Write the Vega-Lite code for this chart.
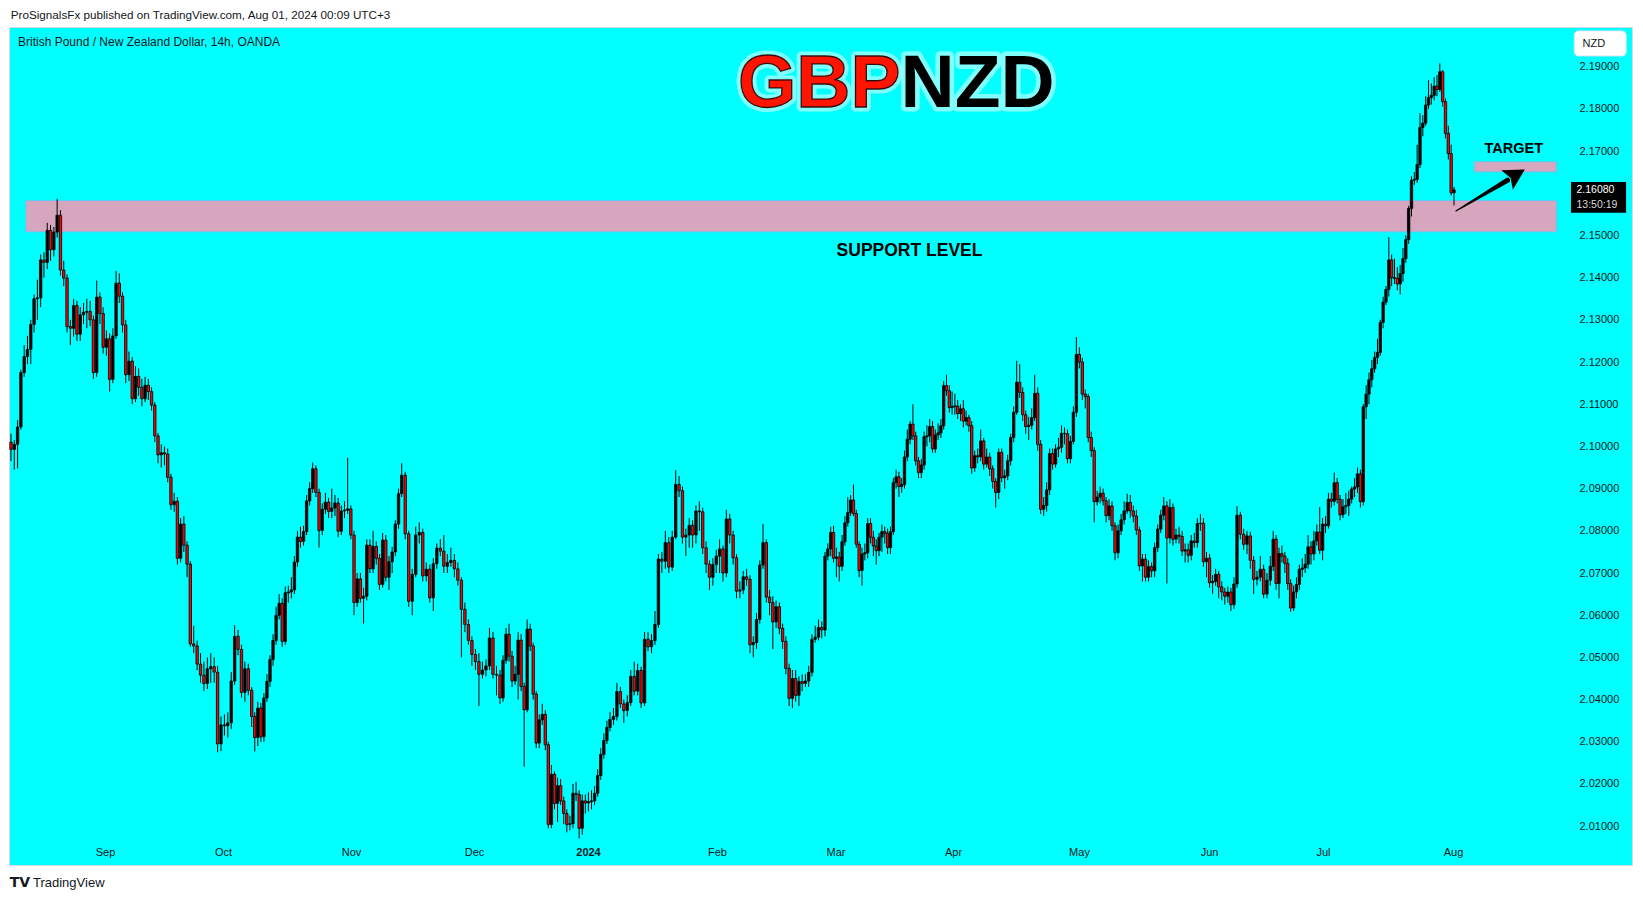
{
"$schema": "https://vega.github.io/schema/vega-lite/v6.json",
"width": 1623,
"height": 838,
"autosize": {"type": "none"},
"padding": {"left": 9, "top": 27, "right": 11, "bottom": 36},
"background": "#ffffff",
"config": {"view": {"fill": "#00ffff", "stroke": "#d6dae0", "strokeWidth": 1}, "font": "Liberation Sans"},
"datasets": {"candles": [
{"i":0,"o":2.1010,"h":2.1030,"l":2.0965,"c":2.0993},
{"i":1,"o":2.0993,"h":2.1015,"l":2.0945,"c":2.1005},
{"i":2,"o":2.1005,"h":2.1062,"l":2.0948,"c":2.1046},
{"i":3,"o":2.1046,"h":2.1182,"l":2.1040,"c":2.1175},
{"i":4,"o":2.1175,"h":2.1240,"l":2.1165,"c":2.1213},
{"i":5,"o":2.1213,"h":2.1262,"l":2.1195,"c":2.1230},
{"i":6,"o":2.1230,"h":2.1300,"l":2.1195,"c":2.1289},
{"i":7,"o":2.1289,"h":2.1360,"l":2.1270,"c":2.1350},
{"i":8,"o":2.1350,"h":2.1395,"l":2.1300,"c":2.1352},
{"i":9,"o":2.1352,"h":2.1455,"l":2.1330,"c":2.1442},
{"i":10,"o":2.1442,"h":2.1460,"l":2.1400,"c":2.1436},
{"i":11,"o":2.1436,"h":2.1530,"l":2.1420,"c":2.1512},
{"i":12,"o":2.1512,"h":2.1525,"l":2.1440,"c":2.1466},
{"i":13,"o":2.1466,"h":2.1520,"l":2.1450,"c":2.1508},
{"i":14,"o":2.1508,"h":2.1587,"l":2.1495,"c":2.1548},
{"i":15,"o":2.1548,"h":2.1560,"l":2.1405,"c":2.1418},
{"i":16,"o":2.1418,"h":2.1440,"l":2.1380,"c":2.1399},
{"i":17,"o":2.1399,"h":2.1408,"l":2.1270,"c":2.1284},
{"i":18,"o":2.1284,"h":2.1300,"l":2.1240,"c":2.1280},
{"i":19,"o":2.1280,"h":2.1350,"l":2.1260,"c":2.1334},
{"i":20,"o":2.1334,"h":2.1345,"l":2.1250,"c":2.1266},
{"i":21,"o":2.1266,"h":2.1330,"l":2.1250,"c":2.1312},
{"i":22,"o":2.1312,"h":2.1340,"l":2.1290,"c":2.1318},
{"i":23,"o":2.1318,"h":2.1350,"l":2.1280,"c":2.1320},
{"i":24,"o":2.1320,"h":2.1345,"l":2.1285,"c":2.1300},
{"i":25,"o":2.1300,"h":2.1310,"l":2.1160,"c":2.1175},
{"i":26,"o":2.1175,"h":2.1393,"l":2.1165,"c":2.1354},
{"i":27,"o":2.1354,"h":2.1365,"l":2.1290,"c":2.1315},
{"i":28,"o":2.1315,"h":2.1330,"l":2.1220,"c":2.1235},
{"i":29,"o":2.1235,"h":2.1275,"l":2.1215,"c":2.1255},
{"i":30,"o":2.1255,"h":2.1268,"l":2.1130,"c":2.1159},
{"i":31,"o":2.1159,"h":2.1280,"l":2.1150,"c":2.1262},
{"i":32,"o":2.1262,"h":2.1416,"l":2.1255,"c":2.1387},
{"i":33,"o":2.1387,"h":2.1410,"l":2.1340,"c":2.1356},
{"i":34,"o":2.1356,"h":2.1365,"l":2.1270,"c":2.1288},
{"i":35,"o":2.1288,"h":2.1300,"l":2.1150,"c":2.1170},
{"i":36,"o":2.1170,"h":2.1225,"l":2.1155,"c":2.1202},
{"i":37,"o":2.1202,"h":2.1212,"l":2.1100,"c":2.1113},
{"i":38,"o":2.1113,"h":2.1190,"l":2.1105,"c":2.1166},
{"i":39,"o":2.1166,"h":2.1185,"l":2.1120,"c":2.1140},
{"i":40,"o":2.1140,"h":2.1160,"l":2.1095,"c":2.1113},
{"i":41,"o":2.1113,"h":2.1165,"l":2.1105,"c":2.1145},
{"i":42,"o":2.1145,"h":2.1160,"l":2.1110,"c":2.1130},
{"i":43,"o":2.1130,"h":2.1140,"l":2.1085,"c":2.1098},
{"i":44,"o":2.1098,"h":2.1105,"l":2.1010,"c":2.1025},
{"i":45,"o":2.1025,"h":2.1032,"l":2.0960,"c":2.0980},
{"i":46,"o":2.0980,"h":2.1005,"l":2.0950,"c":2.0985},
{"i":47,"o":2.0985,"h":2.1000,"l":2.0955,"c":2.0982},
{"i":48,"o":2.0982,"h":2.0995,"l":2.0915,"c":2.0927},
{"i":49,"o":2.0927,"h":2.0935,"l":2.0850,"c":2.0862},
{"i":50,"o":2.0862,"h":2.0890,"l":2.0845,"c":2.0870},
{"i":51,"o":2.0870,"h":2.0880,"l":2.0720,"c":2.0735},
{"i":52,"o":2.0735,"h":2.0830,"l":2.0725,"c":2.0816},
{"i":53,"o":2.0816,"h":2.0835,"l":2.0750,"c":2.0766},
{"i":54,"o":2.0766,"h":2.0775,"l":2.0690,"c":2.0721},
{"i":55,"o":2.0721,"h":2.0728,"l":2.0525,"c":2.0532},
{"i":56,"o":2.0532,"h":2.0575,"l":2.0510,"c":2.0527},
{"i":57,"o":2.0527,"h":2.0540,"l":2.0470,"c":2.0484},
{"i":58,"o":2.0484,"h":2.0510,"l":2.0440,"c":2.0458},
{"i":59,"o":2.0458,"h":2.0490,"l":2.0420,"c":2.0438},
{"i":60,"o":2.0438,"h":2.0500,"l":2.0425,"c":2.0473},
{"i":61,"o":2.0473,"h":2.0510,"l":2.0440,"c":2.0478},
{"i":62,"o":2.0478,"h":2.0500,"l":2.0440,"c":2.0465},
{"i":63,"o":2.0465,"h":2.0480,"l":2.0275,"c":2.0295},
{"i":64,"o":2.0295,"h":2.0360,"l":2.0278,"c":2.0340},
{"i":65,"o":2.0340,"h":2.0365,"l":2.0315,"c":2.0338},
{"i":66,"o":2.0338,"h":2.0370,"l":2.0310,"c":2.0345},
{"i":67,"o":2.0345,"h":2.0465,"l":2.0330,"c":2.0444},
{"i":68,"o":2.0444,"h":2.0576,"l":2.0435,"c":2.0550},
{"i":69,"o":2.0550,"h":2.0565,"l":2.0505,"c":2.0519},
{"i":70,"o":2.0519,"h":2.0530,"l":2.0405,"c":2.0417},
{"i":71,"o":2.0417,"h":2.0490,"l":2.0395,"c":2.0473},
{"i":72,"o":2.0473,"h":2.0485,"l":2.0410,"c":2.0422},
{"i":73,"o":2.0422,"h":2.0430,"l":2.0335,"c":2.0360},
{"i":74,"o":2.0360,"h":2.0370,"l":2.0277,"c":2.0310},
{"i":75,"o":2.0310,"h":2.0395,"l":2.0290,"c":2.0380},
{"i":76,"o":2.0380,"h":2.0392,"l":2.0300,"c":2.0312},
{"i":77,"o":2.0312,"h":2.0415,"l":2.0300,"c":2.0404},
{"i":78,"o":2.0404,"h":2.0460,"l":2.0395,"c":2.0443},
{"i":79,"o":2.0443,"h":2.0505,"l":2.0430,"c":2.0495},
{"i":80,"o":2.0495,"h":2.0555,"l":2.0480,"c":2.0540},
{"i":81,"o":2.0540,"h":2.0620,"l":2.0530,"c":2.0600},
{"i":82,"o":2.0600,"h":2.0650,"l":2.0590,"c":2.0628},
{"i":83,"o":2.0628,"h":2.0640,"l":2.0525,"c":2.0538},
{"i":84,"o":2.0538,"h":2.0668,"l":2.0530,"c":2.0653},
{"i":85,"o":2.0653,"h":2.0670,"l":2.0630,"c":2.0655},
{"i":86,"o":2.0655,"h":2.0690,"l":2.0640,"c":2.0660},
{"i":87,"o":2.0660,"h":2.0740,"l":2.0650,"c":2.0726},
{"i":88,"o":2.0726,"h":2.0800,"l":2.0715,"c":2.0785},
{"i":89,"o":2.0785,"h":2.0810,"l":2.0760,"c":2.0775},
{"i":90,"o":2.0775,"h":2.0812,"l":2.0765,"c":2.0798},
{"i":91,"o":2.0798,"h":2.0885,"l":2.0790,"c":2.0871},
{"i":92,"o":2.0871,"h":2.0915,"l":2.0860,"c":2.0900},
{"i":93,"o":2.0900,"h":2.0962,"l":2.0890,"c":2.0947},
{"i":94,"o":2.0947,"h":2.0955,"l":2.0880,"c":2.0891},
{"i":95,"o":2.0891,"h":2.0900,"l":2.0760,"c":2.0801},
{"i":96,"o":2.0801,"h":2.0865,"l":2.0790,"c":2.0851},
{"i":97,"o":2.0851,"h":2.0890,"l":2.0840,"c":2.0868},
{"i":98,"o":2.0868,"h":2.0878,"l":2.0830,"c":2.0846},
{"i":99,"o":2.0846,"h":2.0900,"l":2.0830,"c":2.0854},
{"i":100,"o":2.0854,"h":2.0885,"l":2.0835,"c":2.0866},
{"i":101,"o":2.0866,"h":2.0878,"l":2.0785,"c":2.0799},
{"i":102,"o":2.0799,"h":2.0860,"l":2.0790,"c":2.0847},
{"i":103,"o":2.0847,"h":2.0870,"l":2.0830,"c":2.0849},
{"i":104,"o":2.0849,"h":2.0973,"l":2.0840,"c":2.0852},
{"i":105,"o":2.0852,"h":2.0860,"l":2.0780,"c":2.0790},
{"i":106,"o":2.0790,"h":2.0800,"l":2.0600,"c":2.0630},
{"i":107,"o":2.0630,"h":2.0700,"l":2.0620,"c":2.0686},
{"i":108,"o":2.0686,"h":2.0700,"l":2.0630,"c":2.0640},
{"i":109,"o":2.0640,"h":2.0665,"l":2.0580,"c":2.0645},
{"i":110,"o":2.0645,"h":2.0780,"l":2.0635,"c":2.0766},
{"i":111,"o":2.0766,"h":2.0780,"l":2.0700,"c":2.0710},
{"i":112,"o":2.0710,"h":2.0800,"l":2.0700,"c":2.0763},
{"i":113,"o":2.0763,"h":2.0775,"l":2.0720,"c":2.0735},
{"i":114,"o":2.0735,"h":2.0745,"l":2.0660,"c":2.0673},
{"i":115,"o":2.0673,"h":2.0795,"l":2.0665,"c":2.0778},
{"i":116,"o":2.0778,"h":2.0790,"l":2.0680,"c":2.0690},
{"i":117,"o":2.0690,"h":2.0740,"l":2.0660,"c":2.0727},
{"i":118,"o":2.0727,"h":2.0762,"l":2.0700,"c":2.0750},
{"i":119,"o":2.0750,"h":2.0825,"l":2.0740,"c":2.0816},
{"i":120,"o":2.0816,"h":2.0900,"l":2.0805,"c":2.0888},
{"i":121,"o":2.0888,"h":2.0960,"l":2.0880,"c":2.0932},
{"i":122,"o":2.0932,"h":2.0940,"l":2.0780,"c":2.0793},
{"i":123,"o":2.0793,"h":2.0800,"l":2.0620,"c":2.0633},
{"i":124,"o":2.0633,"h":2.0710,"l":2.0600,"c":2.0697},
{"i":125,"o":2.0697,"h":2.0810,"l":2.0690,"c":2.0790},
{"i":126,"o":2.0790,"h":2.0820,"l":2.0770,"c":2.0796},
{"i":127,"o":2.0796,"h":2.0805,"l":2.0680,"c":2.0693},
{"i":128,"o":2.0693,"h":2.0725,"l":2.0680,"c":2.0709},
{"i":129,"o":2.0709,"h":2.0720,"l":2.0630,"c":2.0641},
{"i":130,"o":2.0641,"h":2.0735,"l":2.0610,"c":2.0722},
{"i":131,"o":2.0722,"h":2.0770,"l":2.0710,"c":2.0759},
{"i":132,"o":2.0759,"h":2.0780,"l":2.0740,"c":2.0752},
{"i":133,"o":2.0752,"h":2.0790,"l":2.0700,"c":2.0716},
{"i":134,"o":2.0716,"h":2.0745,"l":2.0700,"c":2.0725},
{"i":135,"o":2.0725,"h":2.0760,"l":2.0715,"c":2.0730},
{"i":136,"o":2.0730,"h":2.0745,"l":2.0690,"c":2.0710},
{"i":137,"o":2.0710,"h":2.0725,"l":2.0670,"c":2.0683},
{"i":138,"o":2.0683,"h":2.0690,"l":2.0500,"c":2.0614},
{"i":139,"o":2.0614,"h":2.0630,"l":2.0560,"c":2.0578},
{"i":140,"o":2.0578,"h":2.0590,"l":2.0530,"c":2.0540},
{"i":141,"o":2.0540,"h":2.0550,"l":2.0480,"c":2.0507},
{"i":142,"o":2.0507,"h":2.0520,"l":2.0470,"c":2.0490},
{"i":143,"o":2.0490,"h":2.0510,"l":2.0385,"c":2.0460},
{"i":144,"o":2.0460,"h":2.0490,"l":2.0450,"c":2.0470},
{"i":145,"o":2.0470,"h":2.0495,"l":2.0455,"c":2.0480},
{"i":146,"o":2.0480,"h":2.0570,"l":2.0470,"c":2.0546},
{"i":147,"o":2.0546,"h":2.0560,"l":2.0450,"c":2.0460},
{"i":148,"o":2.0460,"h":2.0480,"l":2.0410,"c":2.0458},
{"i":149,"o":2.0458,"h":2.0470,"l":2.0390,"c":2.0404},
{"i":150,"o":2.0404,"h":2.0505,"l":2.0395,"c":2.0493},
{"i":151,"o":2.0493,"h":2.0570,"l":2.0485,"c":2.0555},
{"i":152,"o":2.0555,"h":2.0580,"l":2.0490,"c":2.0503},
{"i":153,"o":2.0503,"h":2.0515,"l":2.0430,"c":2.0444},
{"i":154,"o":2.0444,"h":2.0480,"l":2.0435,"c":2.0460},
{"i":155,"o":2.0460,"h":2.0560,"l":2.0400,"c":2.0541},
{"i":156,"o":2.0541,"h":2.0555,"l":2.0420,"c":2.0431},
{"i":157,"o":2.0431,"h":2.0440,"l":2.0241,"c":2.0376},
{"i":158,"o":2.0376,"h":2.0590,"l":2.0370,"c":2.0567},
{"i":159,"o":2.0567,"h":2.0580,"l":2.0515,"c":2.0527},
{"i":160,"o":2.0527,"h":2.0535,"l":2.0400,"c":2.0413},
{"i":161,"o":2.0413,"h":2.0420,"l":2.0285,"c":2.0297},
{"i":162,"o":2.0297,"h":2.0365,"l":2.0285,"c":2.0352},
{"i":163,"o":2.0352,"h":2.0390,"l":2.0340,"c":2.0365},
{"i":164,"o":2.0365,"h":2.0375,"l":2.0280,"c":2.0293},
{"i":165,"o":2.0293,"h":2.0300,"l":2.0095,"c":2.0104},
{"i":166,"o":2.0104,"h":2.0245,"l":2.0095,"c":2.0223},
{"i":167,"o":2.0223,"h":2.0230,"l":2.0140,"c":2.0154},
{"i":168,"o":2.0154,"h":2.0215,"l":2.0110,"c":2.0196},
{"i":169,"o":2.0196,"h":2.0212,"l":2.0150,"c":2.0160},
{"i":170,"o":2.0160,"h":2.0170,"l":2.0105,"c":2.0130},
{"i":171,"o":2.0130,"h":2.0140,"l":2.0085,"c":2.0104},
{"i":172,"o":2.0104,"h":2.0125,"l":2.0090,"c":2.0106},
{"i":173,"o":2.0106,"h":2.0200,"l":2.0095,"c":2.0178},
{"i":174,"o":2.0178,"h":2.0205,"l":2.0160,"c":2.0175},
{"i":175,"o":2.0175,"h":2.0185,"l":2.0071,"c":2.0095},
{"i":176,"o":2.0095,"h":2.0175,"l":2.0080,"c":2.0160},
{"i":177,"o":2.0160,"h":2.0175,"l":2.0130,"c":2.0155},
{"i":178,"o":2.0155,"h":2.0180,"l":2.0135,"c":2.0158},
{"i":179,"o":2.0158,"h":2.0185,"l":2.0140,"c":2.0160},
{"i":180,"o":2.0160,"h":2.0195,"l":2.0150,"c":2.0178},
{"i":181,"o":2.0178,"h":2.0235,"l":2.0170,"c":2.0220},
{"i":182,"o":2.0220,"h":2.0285,"l":2.0210,"c":2.0270},
{"i":183,"o":2.0270,"h":2.0320,"l":2.0260,"c":2.0303},
{"i":184,"o":2.0303,"h":2.0350,"l":2.0295,"c":2.0334},
{"i":185,"o":2.0334,"h":2.0370,"l":2.0325,"c":2.0353},
{"i":186,"o":2.0353,"h":2.0380,"l":2.0340,"c":2.0360},
{"i":187,"o":2.0360,"h":2.0440,"l":2.0350,"c":2.0419},
{"i":188,"o":2.0419,"h":2.0430,"l":2.0380,"c":2.0390},
{"i":189,"o":2.0390,"h":2.0400,"l":2.0345,"c":2.0374},
{"i":190,"o":2.0374,"h":2.0410,"l":2.0360,"c":2.0393},
{"i":191,"o":2.0393,"h":2.0470,"l":2.0385,"c":2.0455},
{"i":192,"o":2.0455,"h":2.0490,"l":2.0410,"c":2.0420},
{"i":193,"o":2.0420,"h":2.0485,"l":2.0410,"c":2.0469},
{"i":194,"o":2.0469,"h":2.0478,"l":2.0380,"c":2.0392},
{"i":195,"o":2.0392,"h":2.0560,"l":2.0385,"c":2.0543},
{"i":196,"o":2.0543,"h":2.0560,"l":2.0515,"c":2.0525},
{"i":197,"o":2.0525,"h":2.0555,"l":2.0510,"c":2.0540},
{"i":198,"o":2.0540,"h":2.0610,"l":2.0530,"c":2.0578},
{"i":199,"o":2.0578,"h":2.0745,"l":2.0570,"c":2.0733},
{"i":200,"o":2.0733,"h":2.0750,"l":2.0700,"c":2.0728},
{"i":201,"o":2.0728,"h":2.0800,"l":2.0710,"c":2.0772},
{"i":202,"o":2.0772,"h":2.0785,"l":2.0700,"c":2.0714},
{"i":203,"o":2.0714,"h":2.0800,"l":2.0705,"c":2.0785},
{"i":204,"o":2.0785,"h":2.0944,"l":2.0780,"c":2.0910},
{"i":205,"o":2.0910,"h":2.0930,"l":2.0880,"c":2.0895},
{"i":206,"o":2.0895,"h":2.0905,"l":2.0770,"c":2.0785},
{"i":207,"o":2.0785,"h":2.0805,"l":2.0740,"c":2.0790},
{"i":208,"o":2.0790,"h":2.0830,"l":2.0760,"c":2.0813},
{"i":209,"o":2.0813,"h":2.0825,"l":2.0760,"c":2.0790},
{"i":210,"o":2.0790,"h":2.0860,"l":2.0770,"c":2.0847},
{"i":211,"o":2.0847,"h":2.0870,"l":2.0800,"c":2.0845},
{"i":212,"o":2.0845,"h":2.0855,"l":2.0745,"c":2.0760},
{"i":213,"o":2.0760,"h":2.0775,"l":2.0700,"c":2.0721},
{"i":214,"o":2.0721,"h":2.0730,"l":2.0660,"c":2.0690},
{"i":215,"o":2.0690,"h":2.0735,"l":2.0670,"c":2.0720},
{"i":216,"o":2.0720,"h":2.0755,"l":2.0700,"c":2.0740},
{"i":217,"o":2.0740,"h":2.0780,"l":2.0700,"c":2.0757},
{"i":218,"o":2.0757,"h":2.0765,"l":2.0680,"c":2.0700},
{"i":219,"o":2.0700,"h":2.0850,"l":2.0690,"c":2.0828},
{"i":220,"o":2.0828,"h":2.0840,"l":2.0770,"c":2.0790},
{"i":221,"o":2.0790,"h":2.0800,"l":2.0720,"c":2.0736},
{"i":222,"o":2.0736,"h":2.0745,"l":2.0640,"c":2.0657},
{"i":223,"o":2.0657,"h":2.0680,"l":2.0640,"c":2.0660},
{"i":224,"o":2.0660,"h":2.0705,"l":2.0650,"c":2.0691},
{"i":225,"o":2.0691,"h":2.0710,"l":2.0670,"c":2.0685},
{"i":226,"o":2.0685,"h":2.0695,"l":2.0510,"c":2.0530},
{"i":227,"o":2.0530,"h":2.0550,"l":2.0500,"c":2.0535},
{"i":228,"o":2.0535,"h":2.0605,"l":2.0520,"c":2.0590},
{"i":229,"o":2.0590,"h":2.0730,"l":2.0580,"c":2.0719},
{"i":230,"o":2.0719,"h":2.0816,"l":2.0710,"c":2.0772},
{"i":231,"o":2.0772,"h":2.0780,"l":2.0630,"c":2.0643},
{"i":232,"o":2.0643,"h":2.0660,"l":2.0600,"c":2.0630},
{"i":233,"o":2.0630,"h":2.0645,"l":2.0520,"c":2.0584},
{"i":234,"o":2.0584,"h":2.0635,"l":2.0570,"c":2.0620},
{"i":235,"o":2.0620,"h":2.0630,"l":2.0555,"c":2.0569},
{"i":236,"o":2.0569,"h":2.0580,"l":2.0520,"c":2.0538},
{"i":237,"o":2.0538,"h":2.0550,"l":2.0460,"c":2.0474},
{"i":238,"o":2.0474,"h":2.0485,"l":2.0385,"c":2.0403},
{"i":239,"o":2.0403,"h":2.0470,"l":2.0380,"c":2.0450},
{"i":240,"o":2.0450,"h":2.0470,"l":2.0395,"c":2.0410},
{"i":241,"o":2.0410,"h":2.0455,"l":2.0385,"c":2.0443},
{"i":242,"o":2.0443,"h":2.0460,"l":2.0420,"c":2.0438},
{"i":243,"o":2.0438,"h":2.0460,"l":2.0430,"c":2.0444},
{"i":244,"o":2.0444,"h":2.0480,"l":2.0430,"c":2.0464},
{"i":245,"o":2.0464,"h":2.0555,"l":2.0455,"c":2.0543},
{"i":246,"o":2.0543,"h":2.0575,"l":2.0535,"c":2.0548},
{"i":247,"o":2.0548,"h":2.0590,"l":2.0540,"c":2.0571},
{"i":248,"o":2.0571,"h":2.0585,"l":2.0545,"c":2.0565},
{"i":249,"o":2.0565,"h":2.0750,"l":2.0550,"c":2.0740},
{"i":250,"o":2.0740,"h":2.0770,"l":2.0730,"c":2.0757},
{"i":251,"o":2.0757,"h":2.0810,"l":2.0740,"c":2.0796},
{"i":252,"o":2.0796,"h":2.0812,"l":2.0725,"c":2.0735},
{"i":253,"o":2.0735,"h":2.0760,"l":2.0690,"c":2.0738},
{"i":254,"o":2.0738,"h":2.0750,"l":2.0680,"c":2.0716},
{"i":255,"o":2.0716,"h":2.0790,"l":2.0705,"c":2.0774},
{"i":256,"o":2.0774,"h":2.0835,"l":2.0765,"c":2.0819},
{"i":257,"o":2.0819,"h":2.0880,"l":2.0810,"c":2.0843},
{"i":258,"o":2.0843,"h":2.0885,"l":2.0835,"c":2.0873},
{"i":259,"o":2.0873,"h":2.0910,"l":2.0835,"c":2.0841},
{"i":260,"o":2.0841,"h":2.0850,"l":2.0760,"c":2.0768},
{"i":261,"o":2.0768,"h":2.0775,"l":2.0690,"c":2.0706},
{"i":262,"o":2.0706,"h":2.0760,"l":2.0670,"c":2.0745},
{"i":263,"o":2.0745,"h":2.0770,"l":2.0730,"c":2.0748},
{"i":264,"o":2.0748,"h":2.0830,"l":2.0735,"c":2.0817},
{"i":265,"o":2.0817,"h":2.0830,"l":2.0770,"c":2.0785},
{"i":266,"o":2.0785,"h":2.0800,"l":2.0740,"c":2.0764},
{"i":267,"o":2.0764,"h":2.0780,"l":2.0720,"c":2.0753},
{"i":268,"o":2.0753,"h":2.0795,"l":2.0740,"c":2.0785},
{"i":269,"o":2.0785,"h":2.0815,"l":2.0750,"c":2.0798},
{"i":270,"o":2.0798,"h":2.0810,"l":2.0770,"c":2.0794},
{"i":271,"o":2.0794,"h":2.0805,"l":2.0745,"c":2.0760},
{"i":272,"o":2.0760,"h":2.0810,"l":2.0745,"c":2.0798},
{"i":273,"o":2.0798,"h":2.0925,"l":2.0790,"c":2.0914},
{"i":274,"o":2.0914,"h":2.0945,"l":2.0900,"c":2.0928},
{"i":275,"o":2.0928,"h":2.0940,"l":2.0880,"c":2.0905},
{"i":276,"o":2.0905,"h":2.0925,"l":2.0890,"c":2.0910},
{"i":277,"o":2.0910,"h":2.0990,"l":2.0900,"c":2.0975},
{"i":278,"o":2.0975,"h":2.1040,"l":2.0965,"c":2.1017},
{"i":279,"o":2.1017,"h":2.1060,"l":2.1005,"c":2.1053},
{"i":280,"o":2.1053,"h":2.1100,"l":2.1015,"c":2.1025},
{"i":281,"o":2.1025,"h":2.1035,"l":2.0955,"c":2.0966},
{"i":282,"o":2.0966,"h":2.0975,"l":2.0925,"c":2.0938},
{"i":283,"o":2.0938,"h":2.0970,"l":2.0925,"c":2.0956},
{"i":284,"o":2.0956,"h":2.1035,"l":2.0945,"c":2.1023},
{"i":285,"o":2.1023,"h":2.1050,"l":2.1000,"c":2.1025},
{"i":286,"o":2.1025,"h":2.1065,"l":2.1010,"c":2.1047},
{"i":287,"o":2.1047,"h":2.1060,"l":2.0985,"c":2.0994},
{"i":288,"o":2.0994,"h":2.1040,"l":2.0985,"c":2.1027},
{"i":289,"o":2.1027,"h":2.1055,"l":2.1015,"c":2.1032},
{"i":290,"o":2.1032,"h":2.1065,"l":2.1020,"c":2.1049},
{"i":291,"o":2.1049,"h":2.1155,"l":2.1040,"c":2.1144},
{"i":292,"o":2.1144,"h":2.1170,"l":2.1120,"c":2.1132},
{"i":293,"o":2.1132,"h":2.1145,"l":2.1080,"c":2.1092},
{"i":294,"o":2.1092,"h":2.1130,"l":2.1075,"c":2.1095},
{"i":295,"o":2.1095,"h":2.1125,"l":2.1075,"c":2.1096},
{"i":296,"o":2.1096,"h":2.1110,"l":2.1065,"c":2.1078},
{"i":297,"o":2.1078,"h":2.1100,"l":2.1060,"c":2.1089},
{"i":298,"o":2.1089,"h":2.1110,"l":2.1045,"c":2.1060},
{"i":299,"o":2.1060,"h":2.1085,"l":2.1050,"c":2.1068},
{"i":300,"o":2.1068,"h":2.1075,"l":2.1035,"c":2.1049},
{"i":301,"o":2.1049,"h":2.1060,"l":2.0935,"c":2.0949},
{"i":302,"o":2.0949,"h":2.0990,"l":2.0940,"c":2.0978},
{"i":303,"o":2.0978,"h":2.0995,"l":2.0960,"c":2.0975},
{"i":304,"o":2.0975,"h":2.1040,"l":2.0965,"c":2.1013},
{"i":305,"o":2.1013,"h":2.1020,"l":2.0945,"c":2.0958},
{"i":306,"o":2.0958,"h":2.0995,"l":2.0950,"c":2.0975},
{"i":307,"o":2.0975,"h":2.0985,"l":2.0930,"c":2.0947},
{"i":308,"o":2.0947,"h":2.0955,"l":2.0900,"c":2.0917},
{"i":309,"o":2.0917,"h":2.0925,"l":2.0855,"c":2.0891},
{"i":310,"o":2.0891,"h":2.0995,"l":2.0875,"c":2.0986},
{"i":311,"o":2.0986,"h":2.0995,"l":2.0915,"c":2.0926},
{"i":312,"o":2.0926,"h":2.0945,"l":2.0900,"c":2.0930},
{"i":313,"o":2.0930,"h":2.0980,"l":2.0920,"c":2.0966},
{"i":314,"o":2.0966,"h":2.1030,"l":2.0955,"c":2.1021},
{"i":315,"o":2.1021,"h":2.1095,"l":2.1010,"c":2.1081},
{"i":316,"o":2.1081,"h":2.1203,"l":2.1075,"c":2.1152},
{"i":317,"o":2.1152,"h":2.1195,"l":2.1115,"c":2.1128},
{"i":318,"o":2.1128,"h":2.1140,"l":2.1060,"c":2.1075},
{"i":319,"o":2.1075,"h":2.1085,"l":2.1030,"c":2.1047},
{"i":320,"o":2.1047,"h":2.1070,"l":2.1015,"c":2.1050},
{"i":321,"o":2.1050,"h":2.1090,"l":2.1040,"c":2.1068},
{"i":322,"o":2.1068,"h":2.1170,"l":2.1060,"c":2.1126},
{"i":323,"o":2.1126,"h":2.1140,"l":2.0990,"c":2.1005},
{"i":324,"o":2.1005,"h":2.1015,"l":2.0840,"c":2.0851},
{"i":325,"o":2.0851,"h":2.0880,"l":2.0835,"c":2.0860},
{"i":326,"o":2.0860,"h":2.0915,"l":2.0845,"c":2.0897},
{"i":327,"o":2.0897,"h":2.0995,"l":2.0885,"c":2.0983},
{"i":328,"o":2.0983,"h":2.0995,"l":2.0945,"c":2.0958},
{"i":329,"o":2.0958,"h":2.1005,"l":2.0950,"c":2.0994},
{"i":330,"o":2.0994,"h":2.1020,"l":2.0975,"c":2.0998},
{"i":331,"o":2.0998,"h":2.1050,"l":2.0985,"c":2.1031},
{"i":332,"o":2.1031,"h":2.1045,"l":2.1005,"c":2.1030},
{"i":333,"o":2.1030,"h":2.1040,"l":2.0960,"c":2.0971},
{"i":334,"o":2.0971,"h":2.1025,"l":2.0960,"c":2.1012},
{"i":335,"o":2.1012,"h":2.1095,"l":2.1005,"c":2.1081},
{"i":336,"o":2.1081,"h":2.1259,"l":2.1070,"c":2.1218},
{"i":337,"o":2.1218,"h":2.1235,"l":2.1185,"c":2.1200},
{"i":338,"o":2.1200,"h":2.1210,"l":2.1110,"c":2.1124},
{"i":339,"o":2.1124,"h":2.1135,"l":2.1090,"c":2.1118},
{"i":340,"o":2.1118,"h":2.1125,"l":2.1010,"c":2.1021},
{"i":341,"o":2.1021,"h":2.1035,"l":2.0975,"c":2.0990},
{"i":342,"o":2.0990,"h":2.0998,"l":2.0820,"c":2.0869},
{"i":343,"o":2.0869,"h":2.0895,"l":2.0860,"c":2.0880},
{"i":344,"o":2.0880,"h":2.0905,"l":2.0865,"c":2.0889},
{"i":345,"o":2.0889,"h":2.0900,"l":2.0860,"c":2.0871},
{"i":346,"o":2.0871,"h":2.0880,"l":2.0820,"c":2.0836},
{"i":347,"o":2.0836,"h":2.0875,"l":2.0825,"c":2.0859},
{"i":348,"o":2.0859,"h":2.0870,"l":2.0800,"c":2.0812},
{"i":349,"o":2.0812,"h":2.0820,"l":2.0730,"c":2.0748},
{"i":350,"o":2.0748,"h":2.0815,"l":2.0735,"c":2.0800},
{"i":351,"o":2.0800,"h":2.0840,"l":2.0790,"c":2.0826},
{"i":352,"o":2.0826,"h":2.0870,"l":2.0815,"c":2.0847},
{"i":353,"o":2.0847,"h":2.0888,"l":2.0840,"c":2.0867},
{"i":354,"o":2.0867,"h":2.0885,"l":2.0830,"c":2.0847},
{"i":355,"o":2.0847,"h":2.0860,"l":2.0820,"c":2.0835},
{"i":356,"o":2.0835,"h":2.0850,"l":2.0790,"c":2.0802},
{"i":357,"o":2.0802,"h":2.0810,"l":2.0705,"c":2.0717},
{"i":358,"o":2.0717,"h":2.0745,"l":2.0680,"c":2.0733},
{"i":359,"o":2.0733,"h":2.0745,"l":2.0680,"c":2.0690},
{"i":360,"o":2.0690,"h":2.0730,"l":2.0680,"c":2.0715},
{"i":361,"o":2.0715,"h":2.0725,"l":2.0690,"c":2.0705},
{"i":362,"o":2.0705,"h":2.0772,"l":2.0690,"c":2.0760},
{"i":363,"o":2.0760,"h":2.0815,"l":2.0750,"c":2.0804},
{"i":364,"o":2.0804,"h":2.0850,"l":2.0795,"c":2.0837},
{"i":365,"o":2.0837,"h":2.0880,"l":2.0825,"c":2.0859},
{"i":366,"o":2.0859,"h":2.0870,"l":2.0675,"c":2.0783},
{"i":367,"o":2.0783,"h":2.0875,"l":2.0770,"c":2.0855},
{"i":368,"o":2.0855,"h":2.0865,"l":2.0765,"c":2.0780},
{"i":369,"o":2.0780,"h":2.0805,"l":2.0770,"c":2.0790},
{"i":370,"o":2.0790,"h":2.0810,"l":2.0770,"c":2.0787},
{"i":371,"o":2.0787,"h":2.0800,"l":2.0740,"c":2.0752},
{"i":372,"o":2.0752,"h":2.0770,"l":2.0725,"c":2.0755},
{"i":373,"o":2.0755,"h":2.0770,"l":2.0725,"c":2.0742},
{"i":374,"o":2.0742,"h":2.0790,"l":2.0730,"c":2.0776},
{"i":375,"o":2.0776,"h":2.0795,"l":2.0760,"c":2.0772},
{"i":376,"o":2.0772,"h":2.0830,"l":2.0760,"c":2.0817},
{"i":377,"o":2.0817,"h":2.0840,"l":2.0800,"c":2.0818},
{"i":378,"o":2.0818,"h":2.0830,"l":2.0715,"c":2.0727},
{"i":379,"o":2.0727,"h":2.0750,"l":2.0690,"c":2.0735},
{"i":380,"o":2.0735,"h":2.0745,"l":2.0665,"c":2.0677},
{"i":381,"o":2.0677,"h":2.0695,"l":2.0650,"c":2.0680},
{"i":382,"o":2.0680,"h":2.0710,"l":2.0670,"c":2.0697},
{"i":383,"o":2.0697,"h":2.0705,"l":2.0640,"c":2.0667},
{"i":384,"o":2.0667,"h":2.0680,"l":2.0635,"c":2.0655},
{"i":385,"o":2.0655,"h":2.0665,"l":2.0625,"c":2.0645},
{"i":386,"o":2.0645,"h":2.0668,"l":2.0630,"c":2.0655},
{"i":387,"o":2.0655,"h":2.0665,"l":2.0610,"c":2.0625},
{"i":388,"o":2.0625,"h":2.0690,"l":2.0615,"c":2.0674},
{"i":389,"o":2.0674,"h":2.0858,"l":2.0665,"c":2.0837},
{"i":390,"o":2.0837,"h":2.0845,"l":2.0780,"c":2.0792},
{"i":391,"o":2.0792,"h":2.0805,"l":2.0755,"c":2.0768},
{"i":392,"o":2.0768,"h":2.0800,"l":2.0745,"c":2.0788},
{"i":393,"o":2.0788,"h":2.0798,"l":2.0710,"c":2.0730},
{"i":394,"o":2.0730,"h":2.0740,"l":2.0650,"c":2.0685},
{"i":395,"o":2.0685,"h":2.0705,"l":2.0670,"c":2.0690},
{"i":396,"o":2.0690,"h":2.0740,"l":2.0680,"c":2.0709},
{"i":397,"o":2.0709,"h":2.0720,"l":2.0640,"c":2.0650},
{"i":398,"o":2.0650,"h":2.0700,"l":2.0640,"c":2.0683},
{"i":399,"o":2.0683,"h":2.0740,"l":2.0670,"c":2.0716},
{"i":400,"o":2.0716,"h":2.0800,"l":2.0705,"c":2.0780},
{"i":401,"o":2.0780,"h":2.0790,"l":2.0660,"c":2.0675},
{"i":402,"o":2.0675,"h":2.0760,"l":2.0640,"c":2.0746},
{"i":403,"o":2.0746,"h":2.0765,"l":2.0725,"c":2.0740},
{"i":404,"o":2.0740,"h":2.0750,"l":2.0700,"c":2.0723},
{"i":405,"o":2.0723,"h":2.0735,"l":2.0660,"c":2.0675},
{"i":406,"o":2.0675,"h":2.0685,"l":2.0608,"c":2.0617},
{"i":407,"o":2.0617,"h":2.0670,"l":2.0610,"c":2.0655},
{"i":408,"o":2.0655,"h":2.0690,"l":2.0640,"c":2.0673},
{"i":409,"o":2.0673,"h":2.0720,"l":2.0660,"c":2.0709},
{"i":410,"o":2.0709,"h":2.0735,"l":2.0690,"c":2.0712},
{"i":411,"o":2.0712,"h":2.0745,"l":2.0700,"c":2.0721},
{"i":412,"o":2.0721,"h":2.0790,"l":2.0710,"c":2.0762},
{"i":413,"o":2.0762,"h":2.0775,"l":2.0720,"c":2.0745},
{"i":414,"o":2.0745,"h":2.0800,"l":2.0730,"c":2.0776},
{"i":415,"o":2.0776,"h":2.0815,"l":2.0765,"c":2.0797},
{"i":416,"o":2.0797,"h":2.0856,"l":2.0745,"c":2.0754},
{"i":417,"o":2.0754,"h":2.0830,"l":2.0730,"c":2.0816},
{"i":418,"o":2.0816,"h":2.0835,"l":2.0795,"c":2.0812},
{"i":419,"o":2.0812,"h":2.0890,"l":2.0805,"c":2.0875},
{"i":420,"o":2.0875,"h":2.0890,"l":2.0855,"c":2.0870},
{"i":421,"o":2.0870,"h":2.0938,"l":2.0860,"c":2.0914},
{"i":422,"o":2.0914,"h":2.0925,"l":2.0865,"c":2.0875},
{"i":423,"o":2.0875,"h":2.0885,"l":2.0825,"c":2.0838},
{"i":424,"o":2.0838,"h":2.0875,"l":2.0830,"c":2.0857},
{"i":425,"o":2.0857,"h":2.0890,"l":2.0840,"c":2.0860},
{"i":426,"o":2.0860,"h":2.0895,"l":2.0835,"c":2.0875},
{"i":427,"o":2.0875,"h":2.0905,"l":2.0865,"c":2.0899},
{"i":428,"o":2.0899,"h":2.0925,"l":2.0880,"c":2.0904},
{"i":429,"o":2.0904,"h":2.0950,"l":2.0890,"c":2.0935},
{"i":430,"o":2.0935,"h":2.0945,"l":2.0855,"c":2.0869},
{"i":431,"o":2.0869,"h":2.1100,"l":2.0860,"c":2.1094},
{"i":432,"o":2.1094,"h":2.1145,"l":2.1065,"c":2.1124},
{"i":433,"o":2.1124,"h":2.1175,"l":2.1100,"c":2.1158},
{"i":434,"o":2.1158,"h":2.1205,"l":2.1140,"c":2.1184},
{"i":435,"o":2.1184,"h":2.1225,"l":2.1175,"c":2.1211},
{"i":436,"o":2.1211,"h":2.1255,"l":2.1195,"c":2.1223},
{"i":437,"o":2.1223,"h":2.1300,"l":2.1215,"c":2.1294},
{"i":438,"o":2.1294,"h":2.1355,"l":2.1280,"c":2.1342},
{"i":439,"o":2.1342,"h":2.1380,"l":2.1335,"c":2.1372},
{"i":440,"o":2.1372,"h":2.1496,"l":2.1355,"c":2.1442},
{"i":441,"o":2.1442,"h":2.1455,"l":2.1380,"c":2.1400},
{"i":442,"o":2.1400,"h":2.1445,"l":2.1385,"c":2.1398},
{"i":443,"o":2.1398,"h":2.1425,"l":2.1370,"c":2.1385},
{"i":444,"o":2.1385,"h":2.1430,"l":2.1360,"c":2.1410},
{"i":445,"o":2.1410,"h":2.1470,"l":2.1390,"c":2.1445},
{"i":446,"o":2.1445,"h":2.1500,"l":2.1435,"c":2.1490},
{"i":447,"o":2.1490,"h":2.1570,"l":2.1480,"c":2.1564},
{"i":448,"o":2.1564,"h":2.1640,"l":2.1545,"c":2.1631},
{"i":449,"o":2.1631,"h":2.1650,"l":2.1620,"c":2.1633},
{"i":450,"o":2.1633,"h":2.1715,"l":2.1625,"c":2.1668},
{"i":451,"o":2.1668,"h":2.1790,"l":2.1660,"c":2.1756},
{"i":452,"o":2.1756,"h":2.1785,"l":2.1735,"c":2.1766},
{"i":453,"o":2.1766,"h":2.1830,"l":2.1760,"c":2.1809},
{"i":454,"o":2.1809,"h":2.1868,"l":2.1800,"c":2.1827},
{"i":455,"o":2.1827,"h":2.1860,"l":2.1810,"c":2.1832},
{"i":456,"o":2.1832,"h":2.1875,"l":2.1820,"c":2.1854},
{"i":457,"o":2.1854,"h":2.1880,"l":2.1830,"c":2.1846},
{"i":458,"o":2.1846,"h":2.1908,"l":2.1840,"c":2.1888},
{"i":459,"o":2.1888,"h":2.1892,"l":2.1805,"c":2.1817},
{"i":460,"o":2.1817,"h":2.1825,"l":2.1730,"c":2.1742},
{"i":461,"o":2.1742,"h":2.1760,"l":2.1680,"c":2.1694},
{"i":462,"o":2.1694,"h":2.1715,"l":2.1595,"c":2.1601},
{"i":463,"o":2.1601,"h":2.1615,"l":2.1571,"c":2.1608}
],
"zones": [
{"name": "support", "i": 4.46, "i2": 500.2, "p": 2.15827, "p2": 2.15083},
{"name": "target", "i": 470.3, "i2": 500.2, "p": 2.16749, "p2": 2.16505}
]},
"layer": [
  {"data": {"name": "zones"},
   "mark": {"type": "rect", "fill": "#d5a6bd", "stroke": "#5dc9f5", "strokeWidth": 1},
   "encoding": {"x": {"field": "i", "type": "quantitative"}, "x2": {"field": "i2"},
                "y": {"field": "p", "type": "quantitative"}, "y2": {"field": "p2"}}},
  {"data": {"name": "candles"},
   "mark": {"type": "rule", "color": "#000000", "strokeWidth": 1},
   "encoding": {"x": {"field": "i", "type": "quantitative"},
                "y": {"field": "l", "type": "quantitative"}, "y2": {"field": "h"}}},
  {"data": {"name": "candles"},
   "mark": {"type": "bar", "width": 2.4, "stroke": "#000000", "strokeWidth": 0.8},
   "encoding": {
     "x": {"field": "i", "type": "quantitative",
       "scale": {"domain": [-0.6, 0, 26, 55, 73, 93, 121, 149, 165, 185, 204, 226, 249, 273, 301, 324, 349, 389, 399, 431, 463, 525.9],
                 "range": [0, 2, 87.7, 181.3, 242.7, 303.7, 392.7, 491, 539.3, 601, 666.7, 741, 816, 884.3, 962.7, 1031.7, 1106, 1228, 1261.3, 1354.3, 1445, 1623],
                 "zero": false, "nice": false},
       "axis": {"orient": "bottom", "title": null, "offset": -22, "grid": false, "domain": false, "ticks": false, "tickSize": 0, "labelPadding": 3,
                "values": [28.57, 64.59, 105.05, 141.59, 177.87, 216.23, 252.69, 294.32, 336.89, 379.82, 417.13, 462.65],
                "labelExpr": "datum.value < 40 ? 'Sep' : datum.value < 80 ? 'Oct' : datum.value < 120 ? 'Nov' : datum.value < 160 ? 'Dec' : datum.value < 200 ? '2024' : datum.value < 230 ? 'Feb' : datum.value < 270 ? 'Mar' : datum.value < 310 ? 'Apr' : datum.value < 350 ? 'May' : datum.value < 400 ? 'Jun' : datum.value < 440 ? 'Jul' : 'Aug'",
                "labelFont": "Liberation Sans", "labelFontSize": 11, "labelColor": "#131722", "labelOverlap": false, "labelFlush": false,
                "labelFontWeight": {"condition": {"test": "datum.value > 170 && datum.value < 190", "value": "bold"}, "value": "normal"}}},
     "y": {"field": "o", "type": "quantitative",
       "scale": {"domain": [2.0008, 2.1994], "zero": false, "nice": false},
       "axis": {"orient": "right", "title": null, "offset": -53, "grid": false, "domain": false, "ticks": false, "tickSize": 0, "labelPadding": 0,
                "values": [2.01, 2.02, 2.03, 2.04, 2.05, 2.06, 2.07, 2.08, 2.09, 2.10, 2.11, 2.12, 2.13, 2.14, 2.15, 2.17, 2.18, 2.19],
                "format": ".5f", "labelAlign": "left", "labelBaseline": "middle", "labelFont": "Liberation Sans", "labelFontSize": 11,
                "labelColor": "#131722", "labelOverlap": false, "labelFlush": false}},
     "y2": {"field": "c"},
     "color": {"condition": {"test": "datum.c < datum.o", "value": "#ff0000"}, "value": "#000000"}}},
  {"data": {"values": [{"end": "a", "i": 463.7, "p": 2.1558}, {"end": "b", "i": 482.4, "p": 2.16308}]},
   "mark": {"type": "trail", "color": "#000000"},
   "encoding": {"x": {"field": "i", "type": "quantitative"},
                "y": {"field": "p", "type": "quantitative"},
                "size": {"field": "end", "type": "ordinal", "scale": {"domain": ["a", "b"], "range": [1.2, 5]}, "legend": null}}},
  {"data": {"values": [{"i": 484.4, "p": 2.16396}]},
   "mark": {"type": "point", "shape": "M0,-1.2L1,0.6L0,0.25L-1,0.6Z", "angle": 59.5, "size": 520, "filled": true, "color": "#000000", "opacity": 1},
   "encoding": {"x": {"field": "i", "type": "quantitative"}, "y": {"field": "p", "type": "quantitative"}}},
  {"data": {"values": [{"i": 505.4, "i2": 525.4, "p": 2.16268, "p2": 2.1554}]},
   "mark": {"type": "rect", "fill": "#000000"},
   "encoding": {"x": {"field": "i", "type": "quantitative"}, "x2": {"field": "i2"},
                "y": {"field": "p", "type": "quantitative"}, "y2": {"field": "p2"}}},
  {"data": {"values": [{"i": 507.4, "p": 2.16085, "t": "2.16080"}]},
   "mark": {"type": "text", "align": "left", "baseline": "middle", "font": "Liberation Sans", "fontSize": 10.5, "color": "#ffffff"},
   "encoding": {"x": {"field": "i", "type": "quantitative"}, "y": {"field": "p", "type": "quantitative"}, "text": {"field": "t"}}},
  {"data": {"values": [{"i": 507.4, "p": 2.15725, "t": "13:50:19"}]},
   "mark": {"type": "text", "align": "left", "baseline": "middle", "font": "Liberation Sans", "fontSize": 10.5, "color": "#d8d8d8"},
   "encoding": {"x": {"field": "i", "type": "quantitative"}, "y": {"field": "p", "type": "quantitative"}, "text": {"field": "t"}}},
  {"data": {"values": [{"i": 506.6, "i2": 525.4, "p": 2.19846, "p2": 2.19254}]},
   "mark": {"type": "rect", "fill": "#ffffff", "stroke": "#e0e3eb", "strokeWidth": 1, "cornerRadius": 4},
   "encoding": {"x": {"field": "i", "type": "quantitative"}, "x2": {"field": "i2"},
                "y": {"field": "p", "type": "quantitative"}, "y2": {"field": "p2"}}},
  {"data": {"values": [{"i": 509.6, "p": 2.1953, "t": "NZD"}]},
   "mark": {"type": "text", "align": "left", "baseline": "middle", "font": "Liberation Sans", "fontSize": 11, "color": "#131722"},
   "encoding": {"x": {"field": "i", "type": "quantitative"}, "y": {"field": "p", "type": "quantitative"}, "text": {"field": "t"}}},
  {"data": {"values": [{"i": 275.57, "p": 2.18052, "t": "GBP"}]},
   "mark": {"type": "text", "align": "right", "baseline": "alphabetic", "font": "Liberation Sans", "fontWeight": "bold", "fontSize": 75,
            "color": "#ffffff", "opacity": 0.5, "stroke": "#ffffff", "strokeWidth": 9, "strokeJoin": "round"},
   "encoding": {"x": {"field": "i", "type": "quantitative"}, "y": {"field": "p", "type": "quantitative"}, "text": {"field": "t"}}},
  {"data": {"values": [{"i": 275.57, "p": 2.18052, "t": "NZD"}]},
   "mark": {"type": "text", "align": "left", "baseline": "alphabetic", "font": "Liberation Sans", "fontWeight": "bold", "fontSize": 75,
            "color": "#ffffff", "opacity": 0.5, "stroke": "#ffffff", "strokeWidth": 9, "strokeJoin": "round"},
   "encoding": {"x": {"field": "i", "type": "quantitative"}, "y": {"field": "p", "type": "quantitative"}, "text": {"field": "t"}}},
  {"data": {"values": [{"i": 275.57, "p": 2.18052, "t": "GBP"}]},
   "mark": {"type": "text", "align": "right", "baseline": "alphabetic", "font": "Liberation Sans", "fontWeight": "bold", "fontSize": 75,
            "fill": "#ff1400", "stroke": "#3a0a0a", "strokeWidth": 1.3},
   "encoding": {"x": {"field": "i", "type": "quantitative"}, "y": {"field": "p", "type": "quantitative"}, "text": {"field": "t"}}},
  {"data": {"values": [{"i": 275.57, "p": 2.18052, "t": "NZD"}]},
   "mark": {"type": "text", "align": "left", "baseline": "alphabetic", "font": "Liberation Sans", "fontWeight": "bold", "fontSize": 75, "fill": "#000000"},
   "encoding": {"x": {"field": "i", "type": "quantitative"}, "y": {"field": "p", "type": "quantitative"}, "text": {"field": "t"}}},
  {"data": {"values": [{"i": 278.79, "p": 2.14521, "t": "SUPPORT LEVEL"}]},
   "mark": {"type": "text", "align": "center", "baseline": "alphabetic", "font": "Liberation Sans", "fontWeight": "bold", "fontSize": 17.5, "color": "#000000"},
   "encoding": {"x": {"field": "i", "type": "quantitative"}, "y": {"field": "p", "type": "quantitative"}, "text": {"field": "t"}}},
  {"data": {"values": [{"i": 484.7, "p": 2.16962, "t": "TARGET"}]},
   "mark": {"type": "text", "align": "center", "baseline": "alphabetic", "font": "Liberation Sans", "fontWeight": "bold", "fontSize": 14.5, "color": "#000000"},
   "encoding": {"x": {"field": "i", "type": "quantitative"}, "y": {"field": "p", "type": "quantitative"}, "text": {"field": "t"}}},
  {"data": {"values": [{"i": -0.3, "p": 2.20225, "t": "ProSignalsFx published on TradingView.com, Aug 01, 2024 00:09 UTC+3"}]},
   "mark": {"type": "text", "align": "left", "baseline": "middle", "font": "Liberation Sans", "fontSize": 11.7, "color": "#131722"},
   "encoding": {"x": {"field": "i", "type": "quantitative"}, "y": {"field": "p", "type": "quantitative"}, "text": {"field": "t"}}},
  {"data": {"values": [{"i": 2.12, "p": 2.19578, "t": "British Pound / New Zealand Dollar, 14h, OANDA"}]},
   "mark": {"type": "text", "align": "left", "baseline": "middle", "font": "Liberation Sans", "fontSize": 12, "color": "#131722"},
   "encoding": {"x": {"field": "i", "type": "quantitative"}, "y": {"field": "p", "type": "quantitative"}, "text": {"field": "t"}}},
  {"data": {"values": [{"i": 2.73, "p": 1.99656, "t": "TV"}]},
   "mark": {"type": "text", "align": "center", "baseline": "middle", "font": "DejaVu Sans", "fontWeight": "bold", "fontSize": 14, "color": "#131722"},
   "encoding": {"x": {"field": "i", "type": "quantitative"}, "y": {"field": "p", "type": "quantitative"}, "text": {"field": "t"}}},
  {"data": {"values": [{"i": 6.67, "p": 1.99656, "t": "TradingView"}]},
   "mark": {"type": "text", "align": "left", "baseline": "middle", "font": "Liberation Sans", "fontSize": 13, "color": "#131722"},
   "encoding": {"x": {"field": "i", "type": "quantitative"}, "y": {"field": "p", "type": "quantitative"}, "text": {"field": "t"}}}
]
}
